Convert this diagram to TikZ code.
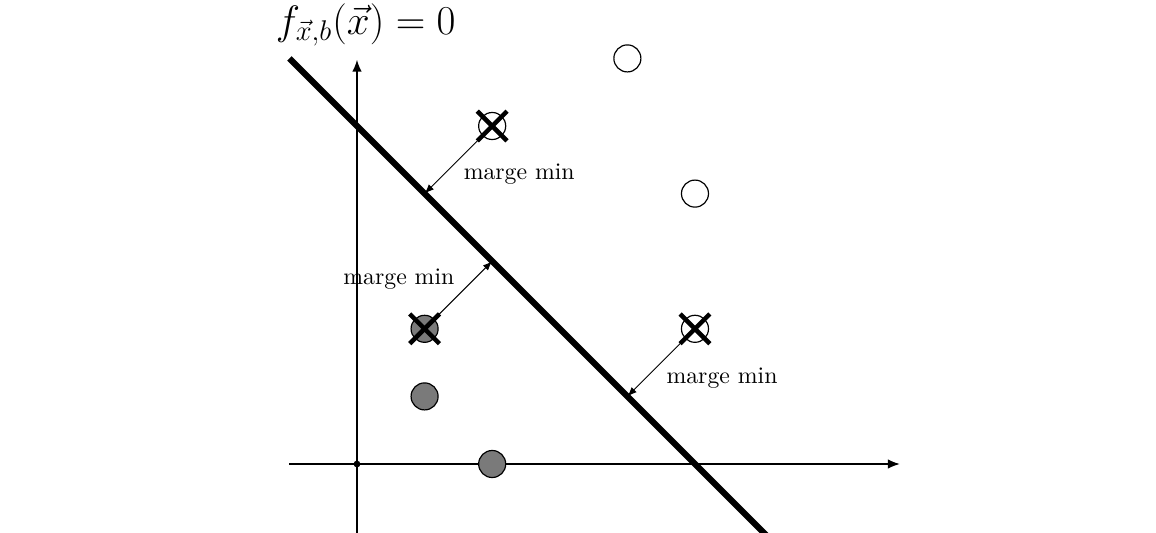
\documentclass[tikz,border=0pt]{standalone}
\usetikzlibrary{arrows.meta}
\begin{document}
\begin{tikzpicture}[
  axis/.style={line width=0.6pt,-{Latex[length=5pt,width=4pt]}},
  plane/.style={line width=2.6pt},
  pt/.style={circle,draw,line width=0.5pt,minimum size=0.4cm,inner sep=0pt},
  negpt/.style={pt,fill=black!52},
  pospt/.style={pt,fill=white},
  xmark/.style={line width=1.9pt},
  marge/.style={line width=0.4pt,-{Latex[length=4pt,width=3pt]}},
  lbl/.style={font=\normalsize,inner sep=1pt},
  ]
\useasboundingbox (-5.281,-1.006) rectangle (11.82,6.864);
% axes
\coordinate (xs) at (-1,0);
\coordinate (xe) at (8.03,0);
\coordinate (ys) at (0,-1.1);
\coordinate (ye) at (0,5.98);
\draw[axis] (xs) -- (xe);
\draw[axis] (ys) -- (ye);
\node[circle,fill,inner sep=0pt,minimum size=0.1cm] (o) at (0,0) {};
% hyperplane
\coordinate (h1) at (-1,6);
\coordinate (h2) at (6.2,-1.2);
\draw[plane] (h1) -- (h2);
% points
\node[negpt] (n1) at (2,0) {};
\node[negpt] (n2) at (1,1) {};
\node[negpt] (n3) at (1,2) {};
\node[pospt] (p1) at (2,5) {};
\node[pospt] (p2) at (4,6) {};
\node[pospt] (p3) at (5,4) {};
\node[pospt] (p4) at (5,2) {};
% feet on the hyperplane
\coordinate (f1) at (1,4);
\coordinate (f3) at (2,3);
\coordinate (f4) at (4,1);
% margin arrows
\draw[marge] (p1.center) -- (f1);
\draw[marge] (n3.center) -- (f3);
\draw[marge] (p4.center) -- (f4);
% crosses on support vectors
\foreach \s in {p1,n3,p4}{
  \draw[xmark] (\s.center) +(-0.22,-0.22) -- +(0.22,0.22);
  \draw[xmark] (\s.center) +(-0.22,0.22) -- +(0.22,-0.22);
}
% labels
\node[lbl] (l1) at (2.4,4.29) {marge min};
\node[lbl] (l2) at (0.62,2.74) {marge min};
\node[lbl] (l3) at (5.40,1.27) {marge min};
\node[font=\fontsize{16.7}{20}\selectfont] (eq) at (0.13,6.5) {$f_{\vec{x},b}(\vec{x}) = 0$};
\end{tikzpicture}
\end{document}
